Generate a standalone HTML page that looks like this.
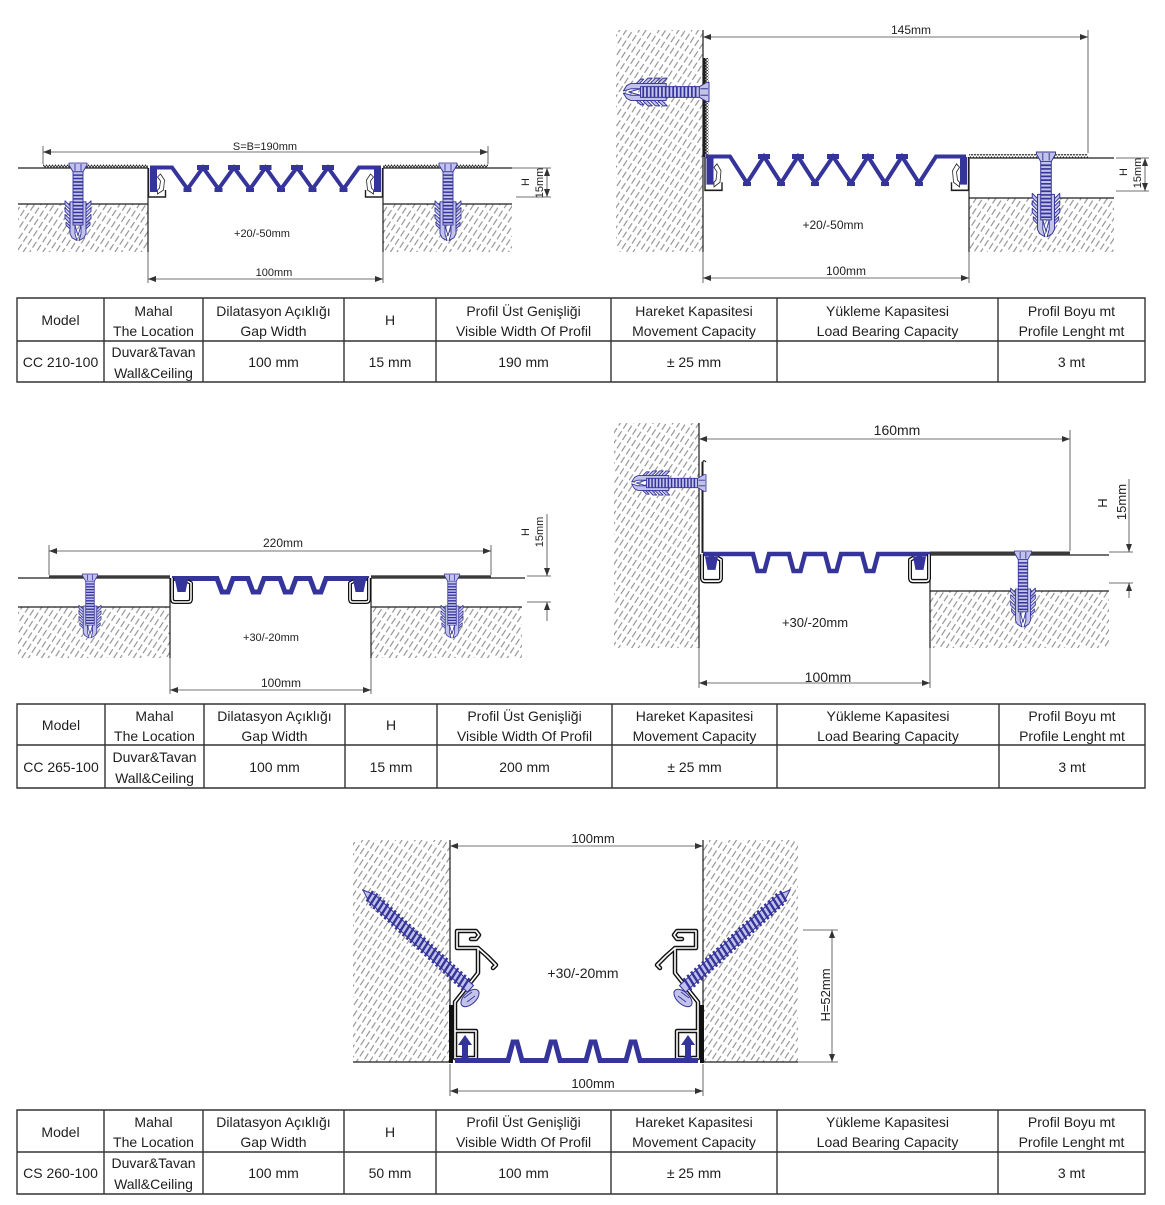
<!DOCTYPE html>
<html><head><meta charset="utf-8">
<style>
html,body{margin:0;padding:0;background:#fff;}
svg{display:block;}
text{font-family:"Liberation Sans",Arial,sans-serif;fill:#222;}
.tb text{font-size:14px;text-anchor:middle;fill:#1e1e1e;}
.ln{stroke:#1e1e1e;stroke-width:1.2;fill:none;}
.dm{stroke:#444;stroke-width:0.8;fill:none;}
.da{stroke:#444;stroke-width:0.8;fill:none;marker-start:url(#ar);marker-end:url(#ar);}
.de{stroke:#444;stroke-width:0.8;fill:none;marker-end:url(#ar);}
.bl{stroke:#34349a;fill:none;stroke-linejoin:miter;}
</style></head><body>
<svg width="1165" height="1205" viewBox="0 0 1165 1205" xmlns="http://www.w3.org/2000/svg">
<defs>
<pattern id="h" width="10" height="5.5" patternUnits="userSpaceOnUse" patternTransform="rotate(-57)">
 <line x1="0" y1="2.7" x2="7" y2="2.7" stroke="#808080" stroke-width="1"/>
</pattern>
<pattern id="sr" width="3" height="4" patternUnits="userSpaceOnUse">
 <path d="M0,3.6 L1.5,0.8 L3,3.6" fill="none" stroke="#222" stroke-width="0.8"/>
</pattern>
<pattern id="srv" width="3" height="3" patternUnits="userSpaceOnUse">
 <path d="M0,0 L2.6,1.5 L0,3" fill="none" stroke="#222" stroke-width="0.8"/>
</pattern>
<marker id="ar" viewBox="0 0 8 6" refX="8" refY="3" markerWidth="8" markerHeight="6" markerUnits="userSpaceOnUse" orient="auto-start-reverse"><path d="M0,0 L8,3 L0,6 Z" fill="#333"/></marker>

<g id="anc" stroke="#34349a" stroke-width="0.9" fill="#c2c2ea" stroke-linejoin="round">
<path d="M-8,40 H-3 V73 L-1,80 L-6,77 L-8,73 Z M8,40 H3 V73 L1,80 L6,77 L8,73 Z"/>
<path d="M-8,44 L-13,39 V43 L-8,48 Z M-8,51 L-13,46 V50 L-8,55 Z M-8,58 L-13,53 V57 L-8,62 Z M-8,65 L-12,61 V64 L-8,68 Z M8,44 L13,39 V43 L8,48 Z M8,51 L13,46 V50 L8,55 Z M8,58 L13,53 V57 L8,62 Z M8,65 L12,61 V64 L8,68 Z"/>
<rect x="-5" y="9" width="10" height="55"/>
<path d="M-5,12.5 H5 M-5,16 H5 M-5,19.5 H5 M-5,23 H5 M-5,26.5 H5 M-5,30 H5 M-5,33.5 H5 M-5,37 H5 M-5,40.5 H5 M-5,44 H5 M-5,47.5 H5 M-5,51 H5 M-5,54.5 H5 M-5,58 H5 M-5,61.5 H5" fill="none" stroke-width="1.6"/>
<path d="M-9,0 H9 V2 L5,9 H-5 L-9,2 Z"/>
<path d="M-3,1 V8 M3,1 V8" fill="none"/>
<path d="M-3,64 L0,75 L3,64" fill="none"/>
</g>

<g id="ws">
<path d="M0,0 L12,-4.5 H146 V4.5 H12 Z" fill="#c2c2ea" stroke="#34349a" stroke-width="1"/>
<path d="M8,-6l2.5,12M13,-7l2.5,14M18,-7l2.5,14M23,-7l2.5,14M28,-7l2.5,14M33,-7l2.5,14M38,-7l2.5,14M43,-7l2.5,14M48,-7l2.5,14M53,-7l2.5,14M58,-7l2.5,14M63,-7l2.5,14M68,-7l2.5,14M73,-7l2.5,14M78,-7l2.5,14M83,-7l2.5,14M88,-7l2.5,14M93,-7l2.5,14M98,-7l2.5,14M103,-7l2.5,14M108,-7l2.5,14M113,-7l2.5,14M118,-7l2.5,14M123,-7l2.5,14M128,-7l2.5,14M133,-7l2.5,14M138,-7l2.5,14" stroke="#34349a" stroke-width="2.4" fill="none"/>
</g>

<g id="ch">
<rect x="1.5" y="0" width="7" height="24" fill="#34349a"/>
<path d="M9,26 L15,22 L16,12 L12,6 L9,9 L12,13 L11,20 L9,22 Z" fill="#fff" stroke="#222" stroke-width="0.8"/>
<path d="M0,0 V29 H17 V22" fill="none" stroke="#1e1e1e" stroke-width="1.4"/>
</g>

<g id="ch2">
<path d="M2,2 V23 Q2,26 5,26 H18 Q21,26 21,23 V7 L17,5" fill="none" stroke="#111" stroke-width="4" stroke-linejoin="round"/>
<path d="M2,2 V23 Q2,26 5,26 H18 Q21,26 21,23 V7 L17,5" fill="none" stroke="#fff" stroke-width="1.5" stroke-linejoin="round"/>
<path d="M9,0 H14 V4 H18 L15.5,16 H7.5 L5,4 H9 Z" fill="#34349a"/>
</g>
</defs>

<!-- ============ DRAWING 1 ============ -->
<rect x="18" y="204" width="130" height="48" fill="url(#h)"/>
<rect x="383" y="204" width="129" height="48" fill="url(#h)"/>
<path class="ln" d="M18,168 H148 M383,168 H512 M18,204 H148 M383,204 H512 M148,168 V252 M383,168 V252"/>
<rect x="43" y="164.5" width="105" height="3.5" fill="url(#sr)"/>
<rect x="383" y="164.5" width="105" height="3.5" fill="url(#sr)"/>
<path class="dm" d="M148,252 V283 M383,252 V283 M43,146 V164 M488,146 V164 M512,168 H551 M516,197 H551"/>
<path class="da" d="M43,152 H488"/>
<path class="da" d="M148,279 H383"/>
<path class="da" d="M547,168 V197"/>
<text x="265" y="150" font-size="11" text-anchor="middle">S=B=190mm</text>
<text x="262" y="237" font-size="11" text-anchor="middle">+20/-50mm</text>
<text x="274" y="276" font-size="11" text-anchor="middle">100mm</text>
<text transform="translate(529,182) rotate(-90)" font-size="11" text-anchor="middle">H</text>
<text transform="translate(543,183) rotate(-90)" font-size="11" text-anchor="middle">15mm</text>
<path class="bl" stroke-width="4" d="M150,167.5 H172 L187.5,189 L203,167.5 L218.5,189 L234,167.5 L250,189 L265.5,167.5 L281,189 L297,167.5 L312.5,189 L328,167.5 L343.5,189 L359,167.5 H381"/>
<g fill="#34349a">
<rect x="197" y="165" width="12" height="5"/><rect x="228" y="165" width="12" height="5"/><rect x="259.5" y="165" width="12" height="5"/><rect x="291" y="165" width="12" height="5"/><rect x="322" y="165" width="12" height="5"/>
<rect x="183.5" y="188" width="8" height="4"/><rect x="214.5" y="188" width="8" height="4"/><rect x="246" y="188" width="8" height="4"/><rect x="277" y="188" width="8" height="4"/><rect x="308.5" y="188" width="8" height="4"/><rect x="339.5" y="188" width="8" height="4"/>
</g>
<use href="#ch" transform="translate(148.5,168)"/>
<use href="#ch" transform="translate(382.5,168) scale(-1,1)"/>
<use href="#anc" transform="translate(78,163) scale(1,0.97)"/>
<use href="#anc" transform="translate(448,163) scale(1,0.97)"/>

<!-- ============ DRAWING 2 ============ -->
<rect x="616" y="30" width="87" height="222" fill="url(#h)"/>
<rect x="969" y="198" width="145" height="54" fill="url(#h)"/>
<path class="ln" d="M703,30 V252 M969,158 H1114 M969,198 H1114 M969,158 V252"/>
<rect x="969" y="154" width="119" height="4" fill="url(#sr)"/>
<line x1="704.5" y1="58" x2="704.5" y2="157" stroke="#1e1e1e" stroke-width="2"/>
<rect x="705.5" y="58" width="3" height="97" fill="url(#srv)"/>
<path class="dm" d="M703,252 V283 M969,252 V283 M1088,30 V153 M1116,158 H1149 M1116,191 H1149"/>
<path class="da" d="M703,37 H1088"/>
<path class="da" d="M703,278 H969"/>
<path class="da" d="M1145,158 V191"/>
<text x="911" y="34" font-size="12" text-anchor="middle">145mm</text>
<text x="833" y="229" font-size="12" text-anchor="middle">+20/-50mm</text>
<text x="846" y="275" font-size="12" text-anchor="middle">100mm</text>
<text transform="translate(1127,172) rotate(-90)" font-size="11" text-anchor="middle">H</text>
<text transform="translate(1141,173) rotate(-90)" font-size="11" text-anchor="middle">15mm</text>
<path class="bl" stroke-width="4" d="M706,156.5 H730 L747,183 L764,156.5 L781,183 L798,156.5 L815,183 L833,156.5 L851,183 L868,156.5 L885,183 L902,156.5 L919,183 L936,156.5 H966"/>
<g fill="#34349a">
<rect x="758" y="154" width="12" height="5"/><rect x="792" y="154" width="12" height="5"/><rect x="827" y="154" width="12" height="5"/><rect x="862" y="154" width="12" height="5"/><rect x="896" y="154" width="12" height="5"/>
<rect x="743" y="182" width="8" height="4"/><rect x="777" y="182" width="8" height="4"/><rect x="811" y="182" width="8" height="4"/><rect x="847" y="182" width="8" height="4"/><rect x="881" y="182" width="8" height="4"/><rect x="915" y="182" width="8" height="4"/>
</g>
<use href="#ch" transform="translate(705,157) scale(1,1.15)"/>
<use href="#ch" transform="translate(968.5,157) scale(-1,1.15)"/>
<use href="#anc" transform="translate(709,92) rotate(90) scale(1.07)"/>
<use href="#anc" transform="translate(1046,152) scale(1.06)"/>

<!-- ============ DRAWING 3 ============ -->
<rect x="18" y="607" width="152" height="51" fill="url(#h)"/>
<rect x="371" y="607" width="151" height="51" fill="url(#h)"/>
<path class="ln" d="M18,578 H170 M371,578 H525 M18,607 H170 M371,607 H522 M170,578 V658 M371,578 V658"/>
<rect x="49" y="575.3" width="121" height="2.7" fill="#3a3a3a"/>
<rect x="371" y="575.3" width="120" height="2.7" fill="#3a3a3a"/>
<path class="dm" d="M170,658 V694 M371,658 V694 M49,545 V575 M491,545 V575 M527,576 H551 M527,602 H551"/>
<path class="da" d="M49,551 H491"/>
<path class="da" d="M170,690 H371"/>
<path class="de" d="M547,514 V576"/>
<path class="de" d="M547,621 V602"/>
<text x="283" y="547" font-size="12" text-anchor="middle">220mm</text>
<text x="271" y="641" font-size="11" text-anchor="middle">+30/-20mm</text>
<text x="281" y="687" font-size="12" text-anchor="middle">100mm</text>
<text transform="translate(529,532) rotate(-90)" font-size="11" text-anchor="middle">H</text>
<text transform="translate(543,532) rotate(-90)" font-size="11" text-anchor="middle">15mm</text>
<path class="bl" stroke-width="5" d="M172,578.5 H217 L222,592 H228 L233,578.5 H248 L253,592 H259 L264,578.5 H280 L285,592 H291 L296,578.5 H310 L315,592 H321 L326,578.5 H369"/>
<use href="#ch2" transform="translate(170,576)"/>
<use href="#ch2" transform="translate(371,576) scale(-1,1)"/>
<use href="#anc" transform="translate(90,574) scale(0.85,0.8)"/>
<use href="#anc" transform="translate(452,574) scale(0.85,0.8)"/>

<!-- ============ DRAWING 4 ============ -->
<rect x="614" y="423" width="85" height="225" fill="url(#h)"/>
<rect x="930" y="591" width="179" height="57" fill="url(#h)"/>
<path class="ln" d="M699,423 V648 M930,555 H1109 M930,591 H1109 M930,555 V648"/>
<rect x="930" y="551.5" width="140" height="3.5" fill="#3a3a3a"/>
<line x1="702.5" y1="462" x2="702.5" y2="553" stroke="#1e1e1e" stroke-width="2"/>
<path d="M702.5,463 Q703.5,459 706,462" fill="none" stroke="#1e1e1e" stroke-width="1.2"/>
<path class="dm" d="M699,648 V688 M930,648 V688 M1070,430 V551 M1109,552 H1133 M1109,583 H1133"/>
<path class="da" d="M699,439 H1070"/>
<path class="da" d="M699,683 H930"/>
<path class="de" d="M1129,479 V552"/>
<path class="de" d="M1129,598 V583"/>
<text x="897" y="435" font-size="14" text-anchor="middle">160mm</text>
<text x="815" y="627" font-size="13" text-anchor="middle">+30/-20mm</text>
<text x="828" y="682" font-size="14" text-anchor="middle">100mm</text>
<text transform="translate(1107,503) rotate(-90)" font-size="13" text-anchor="middle">H</text>
<text transform="translate(1126,502) rotate(-90)" font-size="13" text-anchor="middle">15mm</text>
<path class="bl" stroke-width="4.5" d="M703,554 H753 L757.5,571 H764.5 L769,554 H789 L793.5,571 H800.5 L805,554 H825 L829.5,571 H836.5 L841,554 H862 L866.5,571 H873.5 L878,554 H930"/>
<use href="#ch2" transform="translate(700,552) scale(1,1.12)"/>
<use href="#ch2" transform="translate(931,552) scale(-1,1.12)"/>
<use href="#anc" transform="translate(706,483) rotate(90) scale(0.93)"/>
<use href="#anc" transform="translate(1023,551) scale(0.95)"/>

<!-- ============ DRAWING 5 ============ -->
<rect x="353" y="840" width="97" height="222" fill="url(#h)"/>
<rect x="703" y="840" width="95" height="222" fill="url(#h)"/>
<path class="ln" d="M450,840 V1062 M703,840 V1062 M353,1062 H450 M703,1062 H798"/>
<path class="dm" d="M450,1064 V1096 M703,1064 V1096 M803,930 H838 M798,1062 H838"/>
<path class="da" d="M450,846 H703"/>
<path class="da" d="M450,1091 H703"/>
<path class="da" d="M832,930 V1062"/>
<text x="593" y="843" font-size="13" text-anchor="middle">100mm</text>
<text x="583" y="978" font-size="14" text-anchor="middle">+30/-20mm</text>
<text x="593" y="1088" font-size="13" text-anchor="middle">100mm</text>
<text transform="translate(830,995) rotate(-90)" font-size="13" text-anchor="middle">H=52mm</text>

<g id="p5L">
<rect x="449" y="1005" width="4" height="58" fill="#111"/>
<path d="M457,931 H476 L479,935 L476,939 L471,939 M457,931 V948 H478 L487,956 L496,965 L493,968 M478,948 V973 L455,1002 V1058 H461 M469,1058 H476 V1031 H455" fill="none" stroke="#111" stroke-width="4.5" stroke-linejoin="round" stroke-linecap="round"/>
<path d="M457,931 H476 L479,935 L476,939 L471,939 M457,931 V948 H478 L487,956 L496,965 L493,968 M478,948 V973 L455,1002 V1058 H461 M469,1058 H476 V1031 H455" fill="none" stroke="#fff" stroke-width="1.6" stroke-linejoin="round" stroke-linecap="round"/>
<path d="M465,1035 L472,1045 H468 V1062 H462 V1045 H458 Z" fill="#34349a"/>
<use href="#ws" transform="translate(363,890) rotate(42.6)"/>
<ellipse cx="470" cy="998" rx="11" ry="6" transform="rotate(-43 470 998)" fill="#c2c2ea" stroke="#34349a" stroke-width="1"/>
<path d="M464,998 L472,992 M467,1002 L475,996" stroke="#34349a" stroke-width="0.8"/>
</g>
<use href="#p5L" transform="translate(1153,0) scale(-1,1)"/>
<path class="bl" stroke-width="5" d="M455,1060.5 H508 L513,1042 H517 L522,1060.5 H546 L551,1042 H555 L560,1060.5 H586 L591,1042 H595 L600,1060.5 H626 L631,1042 H635 L640,1060.5 H698"/>

<!-- ============ TABLES ============ -->
<g class="tb">
<path d="M17,298 H1145 V382 H17 Z M17,341 H1145 M104,298 V382 M203,298 V382 M344,298 V382 M436,298 V382 M611,298 V382 M777,298 V382 M998,298 V382" fill="none" stroke="#333" stroke-width="1.4"/>
<text x="60.5" y="325">Model</text>
<text x="153.5" y="316">Mahal</text><text x="153.5" y="336">The Location</text>
<text x="273.5" y="316">Dilatasyon Açıklığı</text><text x="273.5" y="336">Gap Width</text>
<text x="390" y="325">H</text>
<text x="523.5" y="316">Profil Üst Genişliği</text><text x="523.5" y="336">Visible Width Of Profil</text>
<text x="694" y="316">Hareket Kapasitesi</text><text x="694" y="336">Movement Capacity</text>
<text x="887.5" y="316">Yükleme Kapasitesi</text><text x="887.5" y="336">Load Bearing Capacity</text>
<text x="1071.5" y="316">Profil Boyu mt</text><text x="1071.5" y="336">Profile Lenght mt</text>
<text x="60.5" y="367">CC 210-100</text>
<text x="153.5" y="357">Duvar&amp;Tavan</text><text x="153.5" y="378">Wall&amp;Ceiling</text>
<text x="273.5" y="367">100 mm</text>
<text x="390" y="367">15 mm</text>
<text x="523.5" y="367">190 mm</text>
<text x="694" y="367">± 25 mm</text>
<text x="1071.5" y="367">3 mt</text>

<path d="M17,704 H1145 V788 H17 Z M17,745 H1145 M105,704 V788 M204,704 V788 M345,704 V788 M437,704 V788 M612,704 V788 M777,704 V788 M999,704 V788" fill="none" stroke="#333" stroke-width="1.4"/>
<text x="61" y="730">Model</text>
<text x="154.5" y="721">Mahal</text><text x="154.5" y="741">The Location</text>
<text x="274.5" y="721">Dilatasyon Açıklığı</text><text x="274.5" y="741">Gap Width</text>
<text x="391" y="730">H</text>
<text x="524.5" y="721">Profil Üst Genişliği</text><text x="524.5" y="741">Visible Width Of Profil</text>
<text x="694.5" y="721">Hareket Kapasitesi</text><text x="694.5" y="741">Movement Capacity</text>
<text x="888" y="721">Yükleme Kapasitesi</text><text x="888" y="741">Load Bearing Capacity</text>
<text x="1072" y="721">Profil Boyu mt</text><text x="1072" y="741">Profile Lenght mt</text>
<text x="61" y="772">CC 265-100</text>
<text x="154.5" y="762">Duvar&amp;Tavan</text><text x="154.5" y="783">Wall&amp;Ceiling</text>
<text x="274.5" y="772">100 mm</text>
<text x="391" y="772">15 mm</text>
<text x="524.5" y="772">200 mm</text>
<text x="694.5" y="772">± 25 mm</text>
<text x="1072" y="772">3 mt</text>

<path d="M17,1110 H1145 V1194 H17 Z M17,1152 H1145 M104,1110 V1194 M203,1110 V1194 M344,1110 V1194 M436,1110 V1194 M611,1110 V1194 M777,1110 V1194 M998,1110 V1194" fill="none" stroke="#333" stroke-width="1.4"/>
<text x="60.5" y="1137">Model</text>
<text x="153.5" y="1127">Mahal</text><text x="153.5" y="1147">The Location</text>
<text x="273.5" y="1127">Dilatasyon Açıklığı</text><text x="273.5" y="1147">Gap Width</text>
<text x="390" y="1137">H</text>
<text x="523.5" y="1127">Profil Üst Genişliği</text><text x="523.5" y="1147">Visible Width Of Profil</text>
<text x="694" y="1127">Hareket Kapasitesi</text><text x="694" y="1147">Movement Capacity</text>
<text x="887.5" y="1127">Yükleme Kapasitesi</text><text x="887.5" y="1147">Load Bearing Capacity</text>
<text x="1071.5" y="1127">Profil Boyu mt</text><text x="1071.5" y="1147">Profile Lenght mt</text>
<text x="60.5" y="1178">CS 260-100</text>
<text x="153.5" y="1168">Duvar&amp;Tavan</text><text x="153.5" y="1189">Wall&amp;Ceiling</text>
<text x="273.5" y="1178">100 mm</text>
<text x="390" y="1178">50 mm</text>
<text x="523.5" y="1178">100 mm</text>
<text x="694" y="1178">± 25 mm</text>
<text x="1071.5" y="1178">3 mt</text>
</g>
</svg>
</body></html>
